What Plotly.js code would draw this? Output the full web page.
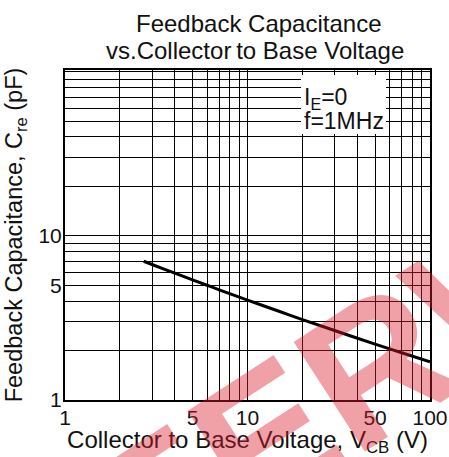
<!DOCTYPE html>
<html>
<head>
<meta charset="utf-8">
<script src="https://cdn.plot.ly/plotly-3.0.1.min.js"></script>
<style>html,body{margin:0;padding:0;background:#fff;}#chart{width:449px;height:457px;}</style>
</head>
<body>
<div id="chart"></div>
<script>
// Data
var vcb = [2.7, 3, 4, 5, 6, 7, 10, 15, 20, 30, 50, 70, 100];
var cre = [7.0, 6.69, 5.92, 5.39, 5.0, 4.69, 4.06, 3.46, 3.09, 2.65, 2.19, 1.94, 1.71];

var xGrid = [1,2,3,4,5,6,7,8,9,10,20,30,40,50,60,70,80,90,100];
var xLabels = ['1','','','','5','','','','','10','','','','50','','','','','100'];
var yGrid = [1,2,3,4,5,6,7,8,9,10,20,30,40,50,60,70,80,90,100];
var yLabels = ['1','','','','5','','','','','10','','','','','','','','',''];

var titleLine1 = 'Feedback Capacitance';
var titleLine2 = 'vs.Collector\u2009to Base Voltage';
var xTitle = 'Collector to Base Voltage, V<sub>CB</sub> (V)';
var yTitle = 'Feedback Capacitance, C<sub>re</sub> (pF)';
var condLine1 = 'I<sub>E</sub>=0';
var condLine2 = 'f=1MHz';
var watermark = 'EERW';

var font = 'Arial, "Liberation Sans", sans-serif';

var trace = {
  x: vcb, y: cre, type: 'scatter', mode: 'lines',
  line: {color: '#000', width: 3, shape: 'spline'},
  hoverinfo: 'none'
};

var layout = {
  width: 449, height: 457,
  margin: {l: 65, r: 19, t: 70, b: 57},
  paper_bgcolor: '#fff', plot_bgcolor: '#fff',
  showlegend: false,
  font: {family: font, size: 20, color: '#000'},
  xaxis: {
    type: 'log', range: [0, 2],
    tickmode: 'array', tickvals: xGrid, ticktext: xLabels,
    showgrid: true, gridcolor: '#000', gridwidth: 1,
    showline: true, linecolor: '#000', linewidth: 2, mirror: true,
    ticks: '', ticklabelstandoff: -2,
    tickfont: {family: font, size: 21, color: '#111'},
    zeroline: false,
    title: {text: xTitle, font: {family: font, size: 24, color: '#111'}, standoff: 0}
  },
  yaxis: {
    type: 'log', range: [0, 2.01],
    tickmode: 'array', tickvals: yGrid, ticktext: yLabels,
    showgrid: true, gridcolor: '#000', gridwidth: 1,
    showline: true, linecolor: '#000', linewidth: 2, mirror: true,
    ticks: '', ticklabelstandoff: -3,
    tickfont: {family: font, size: 21, color: '#111'},
    zeroline: false,
    title: {text: yTitle, font: {family: font, size: 23.5, color: '#111'}, standoff: 9}
  },
  shapes: [
    {type: 'rect', xref: 'paper', yref: 'paper', x0: 0.6466, x1: 0.8795, y0: 0.806, y1: 0.985,
     fillcolor: '#fff', line: {width: 0}, layer: 'above'}
  ],
  annotations: [
    {text: titleLine1, xref: 'paper', yref: 'paper', x: 0.5315, y: 1.142,
     xanchor: 'center', yanchor: 'middle', showarrow: false,
     font: {family: font, size: 24, color: '#111'}},
    {text: titleLine2, xref: 'paper', yref: 'paper', x: 0.5205, y: 1.0606,
     xanchor: 'center', yanchor: 'middle', showarrow: false,
     font: {family: font, size: 24, color: '#111'}},
    {text: condLine1, xref: 'paper', yref: 'paper', x: 0.648, y: 0.915,
     xanchor: 'left', yanchor: 'middle', showarrow: false,
     font: {family: font, size: 23, color: '#111'}},
    {text: condLine2, xref: 'paper', yref: 'paper', x: 0.648, y: 0.845,
     xanchor: 'left', yanchor: 'middle', showarrow: false,
     font: {family: font, size: 23, color: '#111'}},
    {
      text: '<b>' + watermark + '</b>', xref: 'paper', yref: 'paper',
      x: (343 - 65) / 365, y: (400 - 387) / 330, xanchor: 'center', yanchor: 'middle',
      showarrow: false, textangle: -33,
      font: {family: '"Liberation Sans", Arial, sans-serif', size: 190, color: 'rgba(220,30,45,0.42)'}
    }
  ]
};

Plotly.newPlot('chart', [trace], layout, {displayModeBar: false, staticPlot: true});
</script>
</body>
</html>
